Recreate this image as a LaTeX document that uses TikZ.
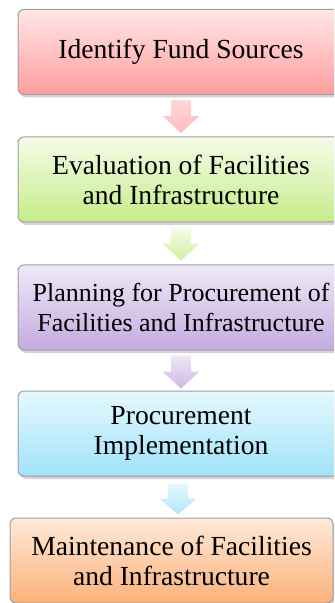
\documentclass[tikz,border=0pt]{standalone}
\usepackage{fontspec}
\setmainfont{Liberation Serif}
\usetikzlibrary{shadows,calc}

\definecolor{fundtop}{HTML}{FFE6E6}
\definecolor{fundbot}{HTML}{FF9E9E}
\definecolor{evaltop}{HTML}{F5FCE8}
\definecolor{evalbot}{HTML}{C5EC8A}
\definecolor{plantop}{HTML}{EFE8F7}
\definecolor{planbot}{HTML}{C5ABDF}
\definecolor{impltop}{HTML}{E6F8FE}
\definecolor{implbot}{HTML}{A0E3FA}
\definecolor{mainttop}{HTML}{FFE9DA}
\definecolor{maintbot}{HTML}{FAB27A}

\tikzset{
	stagebox/.style={rectangle, rounded corners=3pt, draw=gray!75, line width=0.5pt,
		minimum width=163pt, minimum height=42.5pt, align=center,
		font=\fontsize{13.8}{15}\selectfont,
		drop shadow={opacity=0.35, shadow xshift=1pt, shadow yshift=-1.5pt}},
	blockarrow/.style={draw=none}
}

\begin{document}
\begin{tikzpicture}[x=0.5pt,y=-0.5pt]
	
	\clip (0,0) rectangle (334,603);
	
	\node(fund) [stagebox,top color=fundtop,bottom color=fundbot] at (181,52) {Identify Fund Sources};
	
	\node(eval) [stagebox,top color=evaltop,bottom color=evalbot] at (181,179.5) {Evaluation of Facilities\\and Infrastructure};
	
	\node(plan) [stagebox,top color=plantop,bottom color=planbot,font=\fontsize{13}{15}\selectfont] at (181,307.5) {Planning for Procurement of\\Facilities and Infrastructure};
	
	\node(impl) [stagebox,top color=impltop,bottom color=implbot] at (181,433.5) {Procurement\\Implementation};
	
	\node(maint) [stagebox,top color=mainttop,bottom color=maintbot,minimum width=161.5pt] at (171.5,560.5) {Maintenance of Facilities\\and Infrastructure};
	
	\path[blockarrow,top color=fundtop!80!fundbot,bottom color=fundbot!70]
	($(fund.south)+(-10,5)$) -- ++(20,0) -- ++(0,16) -- ++(8.5,0) -- ++(-18.5,17) -- ++(-18.5,-17) -- ++(8.5,0) -- cycle;
	
	\path[blockarrow,top color=evaltop,bottom color=evalbot!80]
	($(eval.south)+(-10,5)$) -- ++(20,0) -- ++(0,16) -- ++(8.5,0) -- ++(-18.5,17) -- ++(-18.5,-17) -- ++(8.5,0) -- cycle;
	
	\path[blockarrow,top color=plantop,bottom color=planbot!85]
	($(plan.south)+(-10,5)$) -- ++(20,0) -- ++(0,16) -- ++(8.5,0) -- ++(-18.5,17) -- ++(-18.5,-17) -- ++(8.5,0) -- cycle;
	
	\path[blockarrow,top color=impltop,bottom color=implbot!85]
	($(impl.south)+(-13,7)$) -- ++(20,0) -- ++(0,15) -- ++(8.5,0) -- ++(-18.5,16) -- ++(-18.5,-16) -- ++(8.5,0) -- cycle;
	
	\end{tikzpicture}
\end{document}
